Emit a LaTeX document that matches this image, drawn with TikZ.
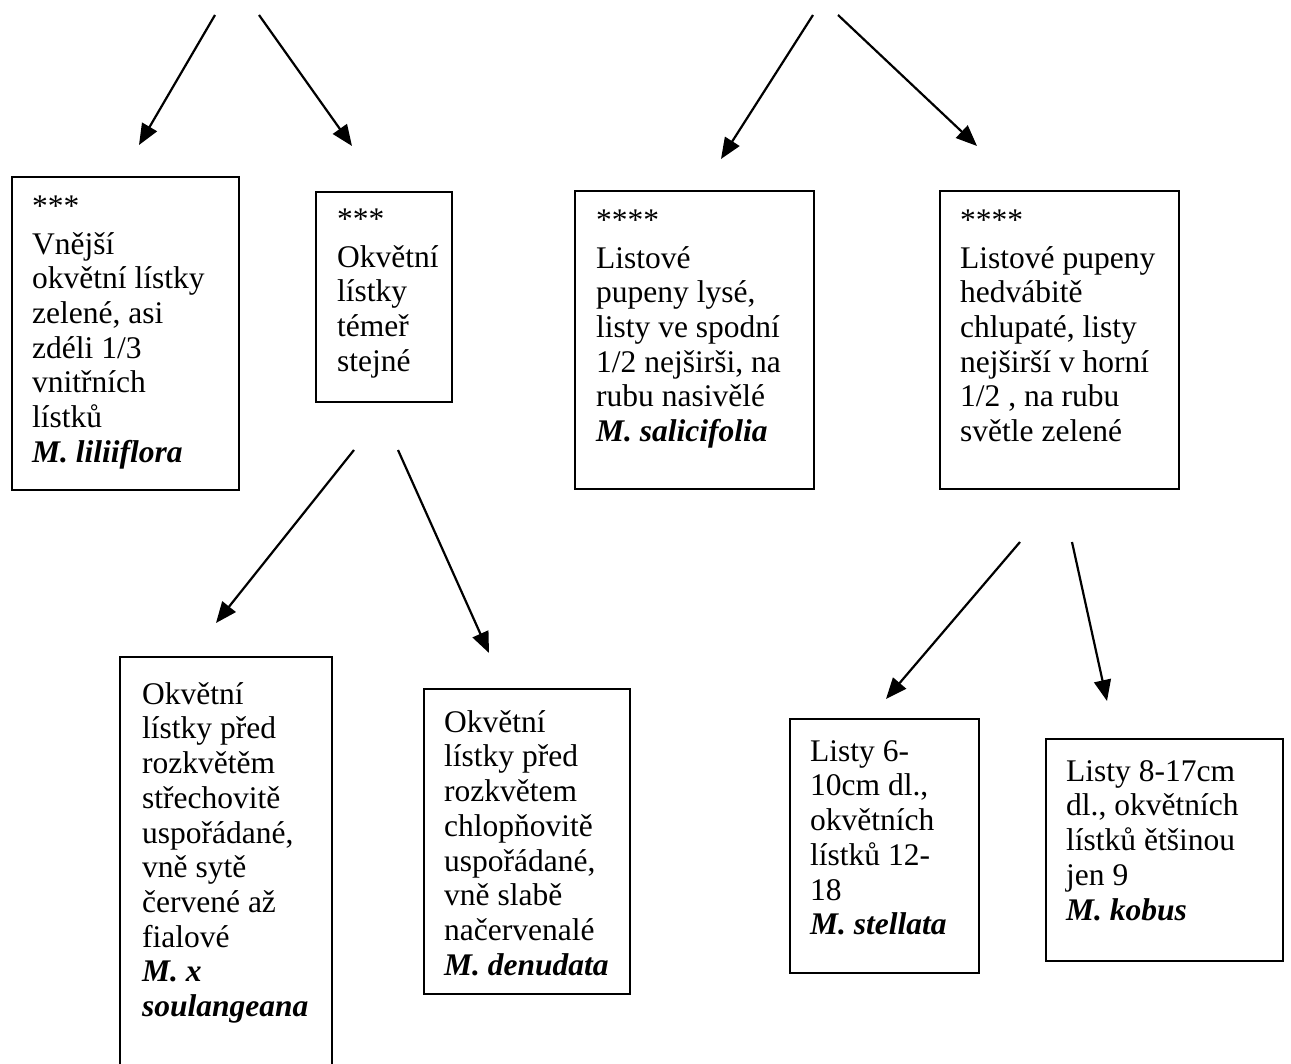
\documentclass[tikz,border=0pt]{standalone}
\usepackage{fontspec}
\setmainfont{Liberation Serif}
\usetikzlibrary{arrows.meta,calc}
\tikzset{
  box/.style={draw, line width=2pt, inner sep=0pt, anchor=north west},
  txt/.style={anchor=north west, inner sep=0pt, align=left, font=\fontsize{31.5}{34.7}\selectfont},
  arr/.style={line width=2.2pt, -{Triangle[length=21pt,width=17pt]}},
}
\newcommand{\fl}{\rule{0pt}{24pt}}
\newcommand{\spn}[1]{\textbf{\textit{#1}}}
\begin{document}
\begin{tikzpicture}[x=1pt,y=-1pt]
\useasboundingbox (0,0) rectangle (1291,1064);
\fill[white] (0,0) rectangle (1291,1064);
\clip (0,0) rectangle (1291,1064);

% boxes
\node[box, minimum width=227pt, minimum height=313pt] (b1) at (11,176) {};
\node[box, minimum width=136pt, minimum height=210pt] (b2) at (315,191) {};
\node[box, minimum width=239pt, minimum height=298pt] (b3) at (574,190) {};
\node[box, minimum width=239pt, minimum height=298pt] (b4) at (939,190) {};
\node[box, minimum width=212pt, minimum height=430pt] (b5) at (119,656) {};
\node[box, minimum width=206pt, minimum height=305pt] (b6) at (423,688) {};
\node[box, minimum width=189pt, minimum height=254pt] (b7) at (789,718) {};
\node[box, minimum width=237pt, minimum height=222pt] (b8) at (1045,738) {};

% texts
\node[txt] (t1) at (32,192) {\fl***\\[3.3pt] Vnější\\ okvětní lístky\\ zelené, asi\\ zdéli 1/3\\ vnitřních\\ lístků\\ \spn{M. liliiflora}};
\node[txt] (t2) at (337,205) {\fl***\\[3.3pt] Okvětní\\ lístky\\ témeř\\ stejné};
\node[txt] (t3) at (596,206) {\fl****\\[3.3pt] Listové\\ pupeny lysé,\\ listy ve spodní\\ 1/2 nejširši, na\\ rubu nasivělé\\ \spn{M. salicifolia}};
\node[txt] (t4) at (960,206) {\fl****\\[3.3pt] Listové pupeny\\ hedvábitě\\ chlupaté, listy\\ nejširší v horní\\ 1/2 , na rubu\\ světle zelené};
\node[txt] (t5) at (142,680) {\fl Okvětní\\ lístky před\\ rozkvětěm\\ střechovitě\\ uspořádané,\\ vně sytě\\ červené až\\ fialové\\ \spn{M. x}\\ \spn{soulangeana}};
\node[txt] (t6) at (444,708) {\fl Okvětní\\ lístky před\\ rozkvětem\\ chlopňovitě\\ uspořádané,\\ vně slabě\\ načervenalé\\ \spn{M. denudata}};
\node[txt] (t7) at (810,737) {\fl Listy 6-\\ 10cm dl.,\\ okvětních\\ lístků 12-\\ 18\\ \spn{M. stellata}};
\node[txt] (t8) at (1066,757) {\fl Listy 8-17cm\\ dl., okvětních\\ lístků ětšinou\\ jen 9\\ \spn{M. kobus}};

% arrow end points
\coordinate (s1) at (215,15);   \coordinate (e1) at (139,145);
\coordinate (s2) at (259,15);   \coordinate (e2) at (352,146);
\coordinate (s3) at (813,15);   \coordinate (e3) at (721,159);
\coordinate (s4) at (838,15);   \coordinate (e4) at (977,146);
\coordinate (s5) at (354,450);  \coordinate (e5) at (216,623);
\coordinate (s6) at (398,450);  \coordinate (e6) at (489,653);
\coordinate (s7) at (1020,542); \coordinate (e7) at (886,699);
\coordinate (s8) at (1072,542); \coordinate (e8) at (1107,701);

\draw[arr] (s1) -- (e1);
\draw[arr] (s2) -- (e2);
\draw[arr] (s3) -- (e3);
\draw[arr] (s4) -- (e4);
\draw[arr] (s5) -- (e5);
\draw[arr] (s6) -- (e6);
\draw[arr] (s7) -- (e7);
\draw[arr] (s8) -- (e8);
\end{tikzpicture}
\end{document}
